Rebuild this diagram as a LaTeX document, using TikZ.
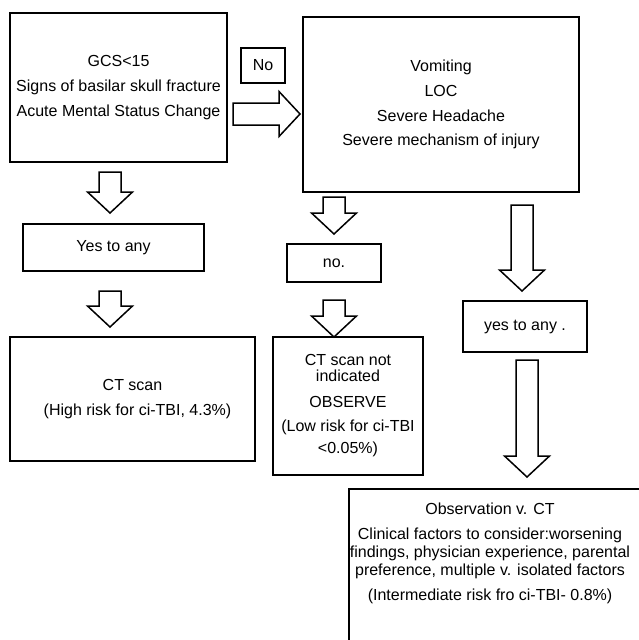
\documentclass[tikz,border=0pt]{standalone}
\usepackage{fontspec}
\setmainfont{Liberation Sans}
\usetikzlibrary{positioning}

\begin{document}
\begin{tikzpicture}[
  x=1pt, y=-1pt,
  every node/.style={font=\fontsize{16}{18}\selectfont},
  box/.style={draw, line width=1.5pt, align=center, inner sep=0pt},
  pics/fatarrow/.style={code={
    \draw[line width=1.5pt, fill=white] (0,-11) -- (#1-21,-11) -- (#1-21,-22.5) -- (#1,0) -- (#1-21,22.5) -- (#1-21,11) -- (0,11) -- cycle;}}
]
\useasboundingbox (0,0) rectangle (639,640);
\clip (0,0) rectangle (639,640);
\node[box, minimum width=217, minimum height=149] (crit) at (118.5,87.5) {GCS<15\\[7pt]Signs of basilar skull fracture\\[7pt]Acute Mental Status Change};
\node[box, minimum width=44, minimum height=35] (nobox) at (263,65.5) {No};
\node[box, minimum width=276, minimum height=175] (minor) at (441,104.5) {Vomiting\\[7pt]LOC\\[7pt]Severe Headache\\[6pt]Severe mechanism of injury};
\node[box, minimum width=181, minimum height=47] (yesleft) at (113.5,247.5) {Yes to any};
\node[box, minimum width=245, minimum height=124] (ctscan) at (132.5,399) {CT scan\\[7pt]\hspace*{10pt}(High risk for ci-TBI, 4.3\%)};
\node[box, minimum width=94, minimum height=38] (nomid) at (334,263) {no.};
\node[box, minimum width=150, minimum height=138] (observe) at (348,406) {CT scan not\\[-2pt]indicated\\[8pt]OBSERVE\\[6pt](Low risk for ci-TBI\\[4pt]{<}0.05\%)};
\node[box, minimum width=124, minimum height=51] (yesright) at (525,326.5) {yes to any .};
\node[box, minimum width=300, minimum height=180, anchor=north west] (obsct) at (348,488) {};
\node[align=center, inner sep=0pt] (obstext) at (490,553) {Observation v. CT\\[7pt]Clinical factors to consider:worsening\\findings, physician experience, parental\\preference, multiple v. isolated factors\\[7pt](Intermediate risk fro ci-TBI- 0.8\%)};
% hollow block arrows
\foreach \x/\y/\len/\rot in {110/172/41/-90, 110/291/36/-90, 233/114/67/0, 334/197/37/-90, 334/300/37/-90, 522/205/86/-90, 527/360/117/-90}
  {\pic[rotate=\rot] at (\x,\y) {fatarrow=\len};}
\end{tikzpicture}
\end{document}
